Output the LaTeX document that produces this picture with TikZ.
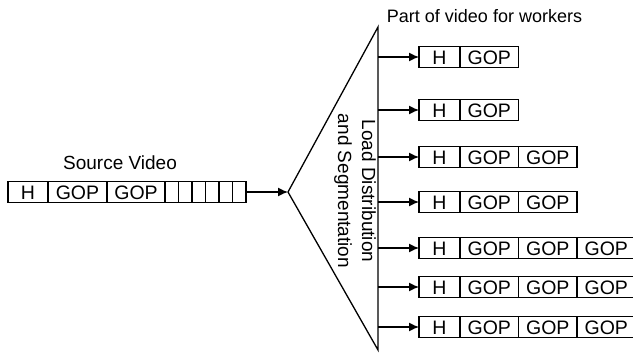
\documentclass[tikz,border=0pt]{standalone}
\usepackage{fontspec}
\setmainfont{Liberation Sans}
\usetikzlibrary{arrows.meta}
\begin{document}
\begin{tikzpicture}[x=1pt,y=-1pt,
  txt/.style={font=\fontsize{19}{24}\selectfont, inner sep=0pt},
  cell/.style={draw, line width=1.3pt, minimum height=21pt, inner sep=0pt, outer sep=0pt,
    anchor=west, text height=14pt, text depth=0pt, font=\fontsize{19.5}{19.5}\selectfont},
  arr/.style={line width=1.3pt, -{Latex[length=10pt,width=9pt]}},
  edge/.style={line width=1.3pt, line join=miter}]
\useasboundingbox (0,0) rectangle (633,356);
\clip (0,0) rectangle (633,356);
% titles
\node[txt, font=\fontsize{18}{24}\selectfont, anchor=base] (title) at (484.5,22) {Part of video for workers};
\node[txt, anchor=base] (srclabel) at (120,169) {Source Video};
% triangle
\coordinate (tip) at (288,192);
\coordinate (top) at (378,27);
\coordinate (bot) at (378,350);
\draw[edge] (tip) -- (top) -- (bot) -- cycle;
\node[txt, rotate=-90, align=center] (ld) at (355,191) {Load Distribution\\and Segmentation};
% source video
\node[cell, minimum width=40pt] (sh) at (8,192) {H};
\node[cell, minimum width=59pt] (sg1) at (48,192) {GOP};
\node[cell, minimum width=58pt] (sg2) at (107,192) {GOP};
\foreach \k in {1,...,6}
  \node[cell, minimum width=13.5pt] (sc\k) at ({165+13.5*(\k-1)},192) {};
\draw[arr] (sc6.east) -- (tip);
% worker parts
\foreach \i/\y/\n in {1/57/1,2/110/1,3/157/2,4/202/2,5/248/3,6/287/3,7/327/3}{
  \coordinate (s\i) at (378,\y);
  \node[cell, minimum width=41pt] (h\i) at (419,\y) {H};
  \foreach \k in {1,...,\n}
    \node[cell, minimum width=58.5pt] (g\i-\k) at ({460+58.5*(\k-1)},\y) {GOP};
  \draw[arr] (s\i) -- (h\i.west);
}
\end{tikzpicture}
\end{document}
